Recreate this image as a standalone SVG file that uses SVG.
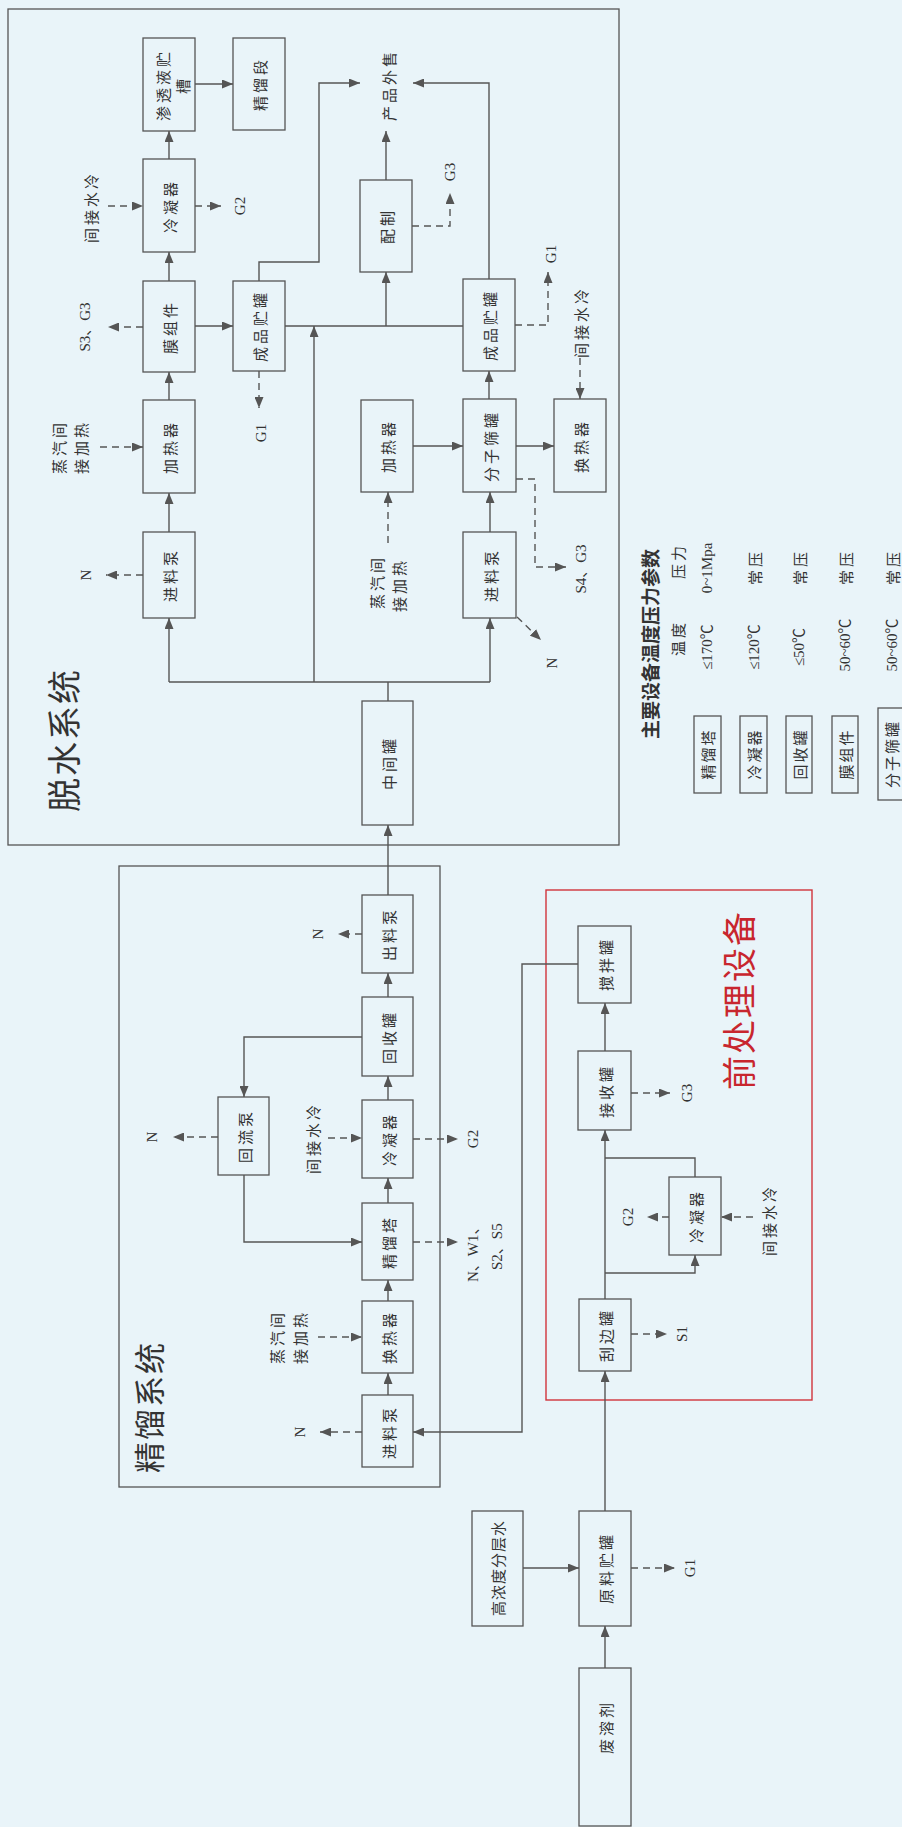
<svg xmlns="http://www.w3.org/2000/svg" width="902" height="1827" viewBox="0 0 902 1827">
<style>
.bg{fill:#e9f4f9}
.box{fill:none;stroke:#555;stroke-width:1.3}
.frame{fill:none;stroke:#555;stroke-width:1.3}
.red{fill:none;stroke:#d0343c;stroke-width:1.4}
.ln{fill:none;stroke:#555;stroke-width:1.4}
.a{marker-end:url(#ah)}
.d{stroke-dasharray:7 5}
.t{font-family:"Noto Sans CJK SC","Noto Sans CJK JP",sans-serif;font-size:15px;fill:#333;text-anchor:middle;dominant-baseline:central;letter-spacing:3px}
.e{font-family:"Liberation Serif","Noto Sans CJK SC",serif;font-size:15px;fill:#333;text-anchor:middle;dominant-baseline:central}
.big{font-family:"Noto Sans CJK SC",sans-serif;font-size:34px;fill:#333;text-anchor:middle;dominant-baseline:central;letter-spacing:2px}
.redt{fill:#c8262e}
.tb{font-family:"Noto Sans CJK SC",sans-serif;font-size:19px;font-weight:bold;fill:#333;text-anchor:middle;dominant-baseline:central}
</style>
<defs>
<marker id="ah" viewBox="0 0 11 9" refX="11" refY="4.5" markerWidth="11" markerHeight="9" markerUnits="userSpaceOnUse" orient="auto">
<path d="M0,0 L11,4.5 L0,9 z" fill="#555"/>
</marker>
</defs>
<rect class="bg" x="0" y="0" width="902" height="1827"/>

<!-- frames -->
<g id="frame-dehydration">
<rect class="frame" x="8" y="9" width="611" height="836"/>
<text class="big" transform="translate(62 740) rotate(-90)">脱水系统</text>
</g>
<g id="frame-distillation">
<rect class="frame" x="119" y="866" width="321" height="621"/>
<text class="big" style="font-size:31px" transform="translate(147 1407) rotate(-90)">精馏系统</text>
</g>
<g id="frame-pretreatment">
<rect class="red" x="546" y="890" width="266" height="510"/>
<text class="big redt" transform="translate(737 1000) rotate(-90)">前处理设备</text>
</g>

<!-- connectors -->
<g id="connectors">
<!-- dehydration solid -->
<path class="ln a" d="M195,84 H233"/>
<path class="ln a" d="M169,159 V131"/>
<path class="ln a" d="M169,281 V252"/>
<path class="ln a" d="M169,400 V372"/>
<path class="ln a" d="M169,532 V493"/>
<path class="ln" d="M388,701 V682 M169,682 H490"/>
<path class="ln a" d="M169,682 V618"/>
<path class="ln a" d="M490,682 V618"/>
<path class="ln a" d="M314,682 V326"/>
<path class="ln a" d="M195,326 H233"/>
<path class="ln" d="M285,326 H463"/>
<path class="ln a" d="M386,326 V272"/>
<path class="ln a" d="M386,180 V131"/>
<path class="ln a" d="M259,281 V262 H319 V83 H360"/>
<path class="ln a" d="M489,279 V83 H413"/>
<path class="ln a" d="M489,399 V371"/>
<path class="ln a" d="M490,532 V492"/>
<path class="ln a" d="M413,446 H463"/>
<path class="ln a" d="M516,446 H554"/>
<!-- dehydration dashed -->
<path class="ln d a" d="M388,543 V492"/>
<path class="ln d a" d="M100,447 H143"/>
<path class="ln d a" d="M143,575 H106"/>
<path class="ln d a" d="M517,617 L541,640"/>
<path class="ln d a" d="M516,479 H535 V567 H566"/>
<path class="ln d a" d="M259,371 V408"/>
<path class="ln d a" d="M143,327 H108"/>
<path class="ln d a" d="M108,206 H143"/>
<path class="ln d a" d="M195,206 H221"/>
<path class="ln d a" d="M412,226 H450 V193"/>
<path class="ln d a" d="M515,325 H548 V272"/>
<path class="ln d a" d="M580,358 V399"/>
<!-- distillation solid -->
<path class="ln a" d="M388,895 V825"/>
<path class="ln a" d="M388,997 V973"/>
<path class="ln a" d="M388,1100 V1076"/>
<path class="ln a" d="M388,1203 V1178"/>
<path class="ln a" d="M388,1301 V1280"/>
<path class="ln a" d="M388,1395 V1373"/>
<path class="ln a" d="M362,1037 H244 V1097"/>
<path class="ln a" d="M244,1175 V1242 H362"/>
<path class="ln a" d="M578,964 H522 V1432 H413"/>
<!-- distillation dashed -->
<path class="ln d a" d="M362,934 H338"/>
<path class="ln d a" d="M218,1137 H173"/>
<path class="ln d a" d="M328,1138 H362"/>
<path class="ln d a" d="M413,1139 H458"/>
<path class="ln d a" d="M413,1242 H458"/>
<path class="ln d a" d="M318,1337 H362"/>
<path class="ln d a" d="M362,1432 H320"/>
<!-- pretreatment -->
<path class="ln a" d="M605,1051 V1003"/>
<path class="ln a" d="M605,1299 V1130"/>
<path class="ln a" d="M605,1273 H695 V1255"/>
<path class="ln" d="M695,1177 V1158 H605"/>
<path class="ln d a" d="M631,1093 H670"/>
<path class="ln d a" d="M669,1217 H647"/>
<path class="ln d a" d="M753,1217 H721"/>
<path class="ln d a" d="M631,1334 H667"/>
<!-- feed -->
<path class="ln a" d="M605,1511 V1371"/>
<path class="ln a" d="M523,1568 H579"/>
<path class="ln a" d="M605,1668 V1626"/>
<path class="ln d a" d="M631,1568 H675"/>
</g>

<!-- connector labels -->
<g id="labels">
<text class="t" transform="translate(388 85) rotate(-90)">产品外售</text>
<text class="t" transform="translate(58 447) rotate(-90)">蒸汽间</text>
<text class="t" transform="translate(80 447) rotate(-90)">接加热</text>
<text class="t" transform="translate(376 582) rotate(-90)">蒸汽间</text>
<text class="t" transform="translate(398 585) rotate(-90)">接加热</text>
<text class="e" transform="translate(86 575) rotate(-90)">N</text>
<text class="e" transform="translate(552 663) rotate(-90)">N</text>
<text class="e" transform="translate(581 569) rotate(-90)">S4、G3</text>
<text class="e" transform="translate(261 433) rotate(-90)">G1</text>
<text class="e" transform="translate(85 327) rotate(-90)">S3、G3</text>
<text class="t" transform="translate(90 207) rotate(-90)">间接水冷</text>
<text class="e" transform="translate(240 206) rotate(-90)">G2</text>
<text class="e" transform="translate(450 172) rotate(-90)">G3</text>
<text class="e" transform="translate(551 254) rotate(-90)">G1</text>
<text class="t" transform="translate(580 322) rotate(-90)">间接水冷</text>
<text class="e" transform="translate(318 934) rotate(-90)">N</text>
<text class="e" transform="translate(152 1137) rotate(-90)">N</text>
<text class="t" transform="translate(312 1138) rotate(-90)">间接水冷</text>
<text class="e" transform="translate(473 1139) rotate(-90)">G2</text>
<text class="e" style="text-anchor:start" transform="translate(473 1282) rotate(-90)">N、W1、</text>
<text class="e" style="text-anchor:start" transform="translate(497 1270) rotate(-90)">S2、S5</text>
<text class="t" transform="translate(276 1337) rotate(-90)">蒸汽间</text>
<text class="t" transform="translate(299 1337) rotate(-90)">接加热</text>
<text class="e" transform="translate(300 1432) rotate(-90)">N</text>
<text class="e" transform="translate(687 1093) rotate(-90)">G3</text>
<text class="e" transform="translate(628 1217) rotate(-90)">G2</text>
<text class="t" transform="translate(768 1220) rotate(-90)">间接水冷</text>
<text class="e" transform="translate(682 1334) rotate(-90)">S1</text>
<text class="e" transform="translate(690 1568) rotate(-90)">G1</text>
</g>

<!-- dehydration nodes -->
<g id="n-shentouye"><rect class="box" x="143" y="38" width="52" height="93"/>
<text class="t" transform="translate(162 85) rotate(-90)">渗透液贮</text>
<text class="t" transform="translate(182 85) rotate(-90)">槽</text></g>
<g id="n-jingliuduan"><rect class="box" x="233" y="38" width="52" height="92"/>
<text class="t" transform="translate(259 84) rotate(-90)">精馏段</text></g>
<g id="n-lengning-d"><rect class="box" x="143" y="159" width="52" height="93"/>
<text class="t" transform="translate(169 206) rotate(-90)">冷凝器</text></g>
<g id="n-mozujian"><rect class="box" x="143" y="281" width="52" height="91"/>
<text class="t" transform="translate(169 327) rotate(-90)">膜组件</text></g>
<g id="n-chengpin1"><rect class="box" x="233" y="281" width="52" height="90"/>
<text class="t" transform="translate(259 326) rotate(-90)">成品贮罐</text></g>
<g id="n-peizhi"><rect class="box" x="360" y="180" width="52" height="92"/>
<text class="t" transform="translate(386 226) rotate(-90)">配制</text></g>
<g id="n-jiareqi1"><rect class="box" x="143" y="400" width="52" height="93"/>
<text class="t" transform="translate(169 447) rotate(-90)">加热器</text></g>
<g id="n-jinliaobeng1"><rect class="box" x="143" y="532" width="52" height="86"/>
<text class="t" transform="translate(169 575) rotate(-90)">进料泵</text></g>
<g id="n-jiareqi2"><rect class="box" x="361" y="400" width="52" height="92"/>
<text class="t" transform="translate(387 446) rotate(-90)">加热器</text></g>
<g id="n-fenzishai"><rect class="box" x="463" y="399" width="53" height="93"/>
<text class="t" transform="translate(490 446) rotate(-90)">分子筛罐</text></g>
<g id="n-huanreqi-d"><rect class="box" x="554" y="399" width="52" height="93"/>
<text class="t" transform="translate(580 446) rotate(-90)">换热器</text></g>
<g id="n-jinliaobeng2"><rect class="box" x="463" y="532" width="53" height="86"/>
<text class="t" transform="translate(490 575) rotate(-90)">进料泵</text></g>
<g id="n-chengpin2"><rect class="box" x="463" y="279" width="52" height="92"/>
<text class="t" transform="translate(489 325) rotate(-90)">成品贮罐</text></g>
<g id="n-zhongjian"><rect class="box" x="362" y="701" width="51" height="124"/>
<text class="t" transform="translate(388 763) rotate(-90)">中间罐</text></g>

<!-- distillation nodes -->
<g id="n-chuliaobeng"><rect class="box" x="362" y="895" width="51" height="78"/>
<text class="t" transform="translate(388 934) rotate(-90)">出料泵</text></g>
<g id="n-huishou"><rect class="box" x="362" y="997" width="51" height="79"/>
<text class="t" transform="translate(388 1037) rotate(-90)">回收罐</text></g>
<g id="n-lengning-j"><rect class="box" x="362" y="1100" width="51" height="78"/>
<text class="t" transform="translate(388 1139) rotate(-90)">冷凝器</text></g>
<g id="n-jingliuta"><rect class="box" x="362" y="1203" width="51" height="77"/>
<text class="t" transform="translate(388 1242) rotate(-90)">精馏塔</text></g>
<g id="n-huanreqi-j"><rect class="box" x="362" y="1301" width="51" height="72"/>
<text class="t" transform="translate(388 1337) rotate(-90)">换热器</text></g>
<g id="n-jinliaobeng-j"><rect class="box" x="362" y="1395" width="51" height="72"/>
<text class="t" transform="translate(388 1432) rotate(-90)">进料泵</text></g>
<g id="n-huiliubeng"><rect class="box" x="218" y="1097" width="51" height="78"/>
<text class="t" transform="translate(244 1136) rotate(-90)">回流泵</text></g>

<!-- pretreatment nodes -->
<g id="n-jiaoban"><rect class="box" x="578" y="926" width="53" height="77"/>
<text class="t" transform="translate(605 964) rotate(-90)">搅拌罐</text></g>
<g id="n-jieshou"><rect class="box" x="578" y="1051" width="53" height="79"/>
<text class="t" transform="translate(605 1091) rotate(-90)">接收罐</text></g>
<g id="n-lengning-p"><rect class="box" x="669" y="1177" width="52" height="78"/>
<text class="t" transform="translate(695 1216) rotate(-90)">冷凝器</text></g>
<g id="n-guabian"><rect class="box" x="579" y="1299" width="52" height="72"/>
<text class="t" transform="translate(605 1335) rotate(-90)">刮边罐</text></g>

<!-- feed nodes -->
<g id="n-yuanliao"><rect class="box" x="579" y="1511" width="52" height="115"/>
<text class="t" transform="translate(605 1568) rotate(-90)">原料贮罐</text></g>
<g id="n-gaonongdu"><rect class="box" x="472" y="1511" width="51" height="115"/>
<text class="t" style="letter-spacing:1px" transform="translate(497 1568) rotate(-90)">高浓度分层水</text></g>
<g id="n-feirongji"><rect class="box" x="579" y="1668" width="52" height="158"/>
<text class="t" transform="translate(605 1727) rotate(-90)">废溶剂</text></g>

<!-- parameter table -->
<g id="param-table">
<text class="tb" transform="translate(649 644) rotate(-90)">主要设备温度压力参数</text>
<text class="t" transform="translate(677 638) rotate(-90)">温度</text>
<text class="t" transform="translate(677 561) rotate(-90)">压力</text>
<rect class="box" x="694" y="716" width="27" height="77"/>
<text class="t" style="letter-spacing:2px" transform="translate(707 754) rotate(-90)">精馏塔</text>
<text class="e" transform="translate(707 647) rotate(-90)">≤170℃</text>
<text class="e" transform="translate(707 568) rotate(-90)">0~1Mpa</text>
<rect class="box" x="740" y="716" width="27" height="77"/>
<text class="t" style="letter-spacing:2px" transform="translate(753 754) rotate(-90)">冷凝器</text>
<text class="e" transform="translate(754 647) rotate(-90)">≤120℃</text>
<text class="t" transform="translate(754 567) rotate(-90)">常压</text>
<rect class="box" x="786" y="716" width="26" height="77"/>
<text class="t" style="letter-spacing:2px" transform="translate(799 754) rotate(-90)">回收罐</text>
<text class="e" transform="translate(799 647) rotate(-90)">≤50℃</text>
<text class="t" transform="translate(799 567) rotate(-90)">常压</text>
<rect class="box" x="832" y="716" width="26" height="77"/>
<text class="t" style="letter-spacing:2px" transform="translate(845 754) rotate(-90)">膜组件</text>
<text class="e" transform="translate(845 645) rotate(-90)">50~60℃</text>
<text class="t" transform="translate(845 567) rotate(-90)">常压</text>
<rect class="box" x="878" y="708" width="28" height="92"/>
<text class="t" style="letter-spacing:2px" transform="translate(891 754) rotate(-90)">分子筛罐</text>
<text class="e" transform="translate(892 645) rotate(-90)">50~60℃</text>
<text class="t" transform="translate(892 567) rotate(-90)">常压</text>
</g>
</svg>
